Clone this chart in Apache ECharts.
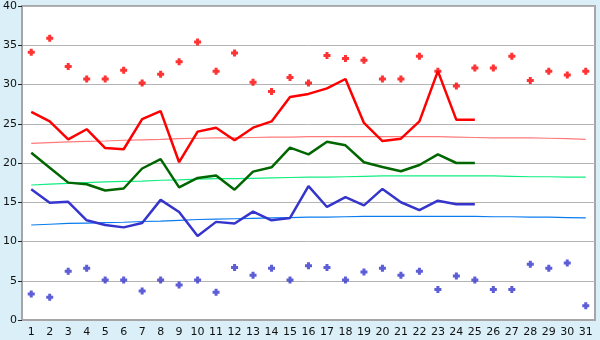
<!DOCTYPE html>
<html lang="en">
<head>
  <meta charset="UTF-8" />
  <title>Daily temperatures</title>
  <script src="https://cdn.jsdelivr.net/npm/echarts@6.0.0/dist/echarts.min.js"></script>
  <style>
    html, body { margin: 0; padding: 0; background: #daeff7; }
    #chart { width: 600px; height: 340px; }
  </style>
</head>
<body>
  <div id="chart"></div>
  <script>
    // day labels on the x axis
    var days = [];
    for (var d = 1; d <= 31; d++) days.push(String(d));

    // daily extremes (scatter marks)
    var dailyMax = [34.1, 35.9, 32.3, 30.7, 30.7, 31.8, 30.2, 31.3, 32.9, 35.4,
                    31.7, 34.0, 30.3, 29.1, 30.9, 30.2, 33.7, 33.3, 33.1, 30.7,
                    30.7, 33.6, 31.7, 29.8, 32.1, 32.1, 33.6, 30.5, 31.7, 31.2, 31.7];
    var dailyMin = [3.3, 2.9, 6.2, 6.6, 5.1, 5.1, 3.7, 5.1, 4.45, 5.1,
                    3.55, 6.7, 5.7, 6.6, 5.1, 6.9, 6.7, 5.1, 6.1, 6.6,
                    5.7, 6.2, 3.9, 5.6, 5.1, 3.9, 3.9, 7.1, 6.6, 7.25, 1.8];

    // running averages (days 1-25)
    var avgMax = [26.5, 25.3, 23.0, 24.3, 21.9, 21.75, 25.6, 26.6, 20.1, 24.0,
                  24.5, 22.9, 24.5, 25.3, 28.4, 28.8, 29.5, 30.7, 25.1, 22.8,
                  23.1, 25.3, 31.7, 25.5, 25.5];
    var avgMean = [21.3, 19.4, 17.5, 17.3, 16.5, 16.75, 19.3, 20.5, 16.9, 18.1,
                   18.4, 16.6, 18.9, 19.45, 21.95, 21.1, 22.7, 22.25, 20.1, 19.5,
                   18.95, 19.75, 21.1, 20.0, 20.0];
    var avgMin = [16.65, 14.95, 15.05, 12.7, 12.1, 11.8, 12.35, 15.3, 13.75, 10.7,
                  12.5, 12.3, 13.8, 12.7, 13.0, 17.05, 14.4, 15.65, 14.6, 16.7,
                  15.0, 14.0, 15.2, 14.75, 14.75];

    // long-term normals
    var normMax = [22.5, 22.6, 22.7, 22.75, 22.8, 22.9, 22.95, 23.0, 23.1, 23.15,
                   23.2, 23.2, 23.25, 23.3, 23.3, 23.35, 23.35, 23.35, 23.35, 23.35,
                   23.35, 23.35, 23.35, 23.3, 23.25, 23.2, 23.2, 23.2, 23.15, 23.1, 23.0];
    var normMean = [17.2, 17.3, 17.4, 17.5, 17.6, 17.65, 17.7, 17.8, 17.85, 17.95,
                    18.0, 18.0, 18.05, 18.1, 18.15, 18.2, 18.2, 18.25, 18.3, 18.35,
                    18.35, 18.35, 18.35, 18.35, 18.35, 18.35, 18.3, 18.25, 18.25, 18.2, 18.2];
    var normMin = [12.1, 12.2, 12.3, 12.35, 12.4, 12.45, 12.55, 12.6, 12.7, 12.8,
                   12.85, 12.9, 12.95, 13.0, 13.05, 13.1, 13.1, 13.15, 13.2, 13.2,
                   13.2, 13.2, 13.2, 13.2, 13.2, 13.15, 13.15, 13.1, 13.1, 13.05, 13.0];

    // chunky plus, close to the little cross-diamond in the original
    var marker = 'path://M2,0H5V2H7V5H5V7H2V5H0V2H2Z';

    function thinLine(data, color) {
      return {
        type: 'line', data: data, symbol: 'none', silent: true,
        lineStyle: { color: color, width: 1.2 }, z: 2
      };
    }
    function thickLine(data, color) {
      return {
        type: 'line', data: data, symbol: 'none', silent: true,
        lineStyle: { color: color, width: 2.5 }, z: 3
      };
    }
    function dots(data, color) {
      return {
        type: 'scatter', data: data, symbol: marker, symbolSize: 7,
        itemStyle: { color: color }, z: 4
      };
    }

    var chart = echarts.init(document.getElementById('chart'));
    chart.setOption({
      animation: false,
      backgroundColor: '#daeff7',
      textStyle: { fontFamily: 'DejaVu Sans' },
      grid: {
        left: 20, right: 5, top: 6, bottom: 20,
        show: true, backgroundColor: '#ffffff',
        borderColor: '#a6a6a6', borderWidth: 2
      },
      xAxis: {
        type: 'category',
        data: days,
        boundaryGap: true,
        axisLine: { lineStyle: { color: '#a6a6a6', width: 2 } },
        axisTick: { alignWithLabel: true, length: 5, lineStyle: { color: '#222' } },
        axisLabel: { color: '#111', fontSize: 11, margin: 7, interval: 0 },
        splitLine: { show: false }
      },
      yAxis: {
        type: 'value',
        min: 0, max: 40, interval: 5,
        axisLine: { show: true, lineStyle: { color: '#a6a6a6', width: 2 } },
        axisTick: { show: true, length: 4, lineStyle: { color: '#222' } },
        axisLabel: { color: '#111', fontSize: 11, margin: 5 },
        splitLine: { lineStyle: { color: '#b4b4b4', width: 1 } }
      },
      series: [
        thinLine(normMax, '#ff7a7a'),
        thinLine(normMean, '#10ee80'),
        thinLine(normMin, '#0a7cf0'),
        thickLine(avgMax, '#ff0000'),
        thickLine(avgMean, '#006600'),
        thickLine(avgMin, '#3535cc'),
        dots(dailyMax, '#ff0000'),
        dots(dailyMin, '#3535cc')
      ]
    });
  </script>
</body>
</html>
